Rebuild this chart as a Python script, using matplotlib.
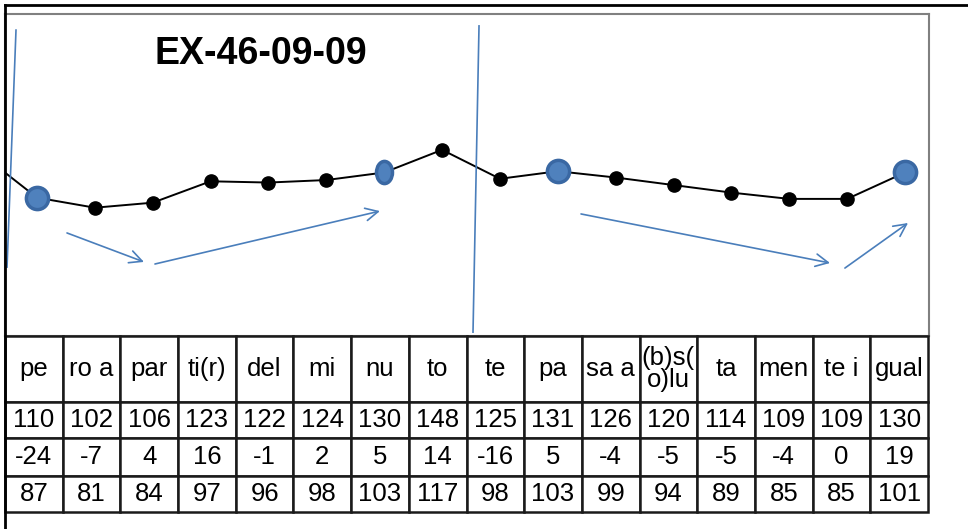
import matplotlib
matplotlib.use('Agg')
import matplotlib.pyplot as plt
from matplotlib.markers import MarkerStyle
from matplotlib.transforms import Affine2D
from matplotlib.lines import Line2D

plt.rcParams['font.family'] = ['Liberation Sans', 'DejaVu Sans']

# data
syllables = ['pe', 'ro a', 'par', 'ti(r)', 'del', 'mi', 'nu', 'to',
             'te', 'pa', 'sa a', '(b)s(\no)lu', 'ta', 'men', 'te i', 'gual']
hz = [110, 102, 106, 123, 122, 124, 130, 148, 125, 131, 126, 120, 114, 109, 109, 130]
diff = [-24, -7, 4, 16, -1, 2, 5, 14, -16, 5, -4, -5, -5, -4, 0, 19]
pct = [87, 81, 84, 97, 96, 98, 103, 117, 98, 103, 99, 94, 89, 85, 85, 101]
prev_hz = 146  # last point of the previous group, only the tail is visible
big = [0, 9, 15]  # stressed points drawn as large blue dots
narrow = [6]      # narrow blue dot

W, H = 968, 529
fig = plt.figure(figsize=(W / 100, H / 100), dpi=100)

# chart area
ax = fig.add_axes([5 / W, 1 - 336 / H, 924 / W, 322 / H])
xs = list(range(-1, len(hz)))
ax.plot(xs, [prev_hz] + hz, color='black', lw=1.4, zorder=2)
ax.plot(range(len(hz)), hz, 'o', color='black', ms=9.5, zorder=3)
for i in big:
    ax.plot(i, hz[i], 'o', ms=16, mfc='#4f81bd', mec='#3a68a3', mew=2.5, zorder=4)
for i in narrow:
    m = MarkerStyle('o', transform=Affine2D().scale(0.72, 1))
    ax.plot(i, hz[i], marker=m, ms=16, mfc='#4f81bd', mec='#3a68a3', mew=2.5,
            ls='none', zorder=4)
ax.set_xlim(-0.553, 15.414)
ax.set_ylim(0, 256)
ax.set_xticks([])
ax.set_yticks([])
for s in ax.spines.values():
    s.set_color('#808080')
    s.set_linewidth(1.5)

ax.text(0.2765, 0.876, 'EX-46-09-09', transform=ax.transAxes, ha='center', va='center',
        fontsize=27, fontweight='bold')

blue = '#4a7ebb'
ax.plot([0.0119, 0.0022], [0.950, 0.214], transform=ax.transAxes, color=blue, lw=1.2)
ax.plot([0.513, 0.5065], [0.963, 0.012], transform=ax.transAxes, color=blue, lw=1.2)
arrows = [((0.0671, 0.320), (0.1504, 0.230)),
          ((0.1623, 0.2236), (0.4058, 0.388)),
          ((0.6234, 0.379), (0.8929, 0.2267)),
          ((0.909, 0.211), (0.9773, 0.351))]
for a, b in arrows:
    ax.annotate('', xy=b, xytext=a, xycoords='axes fraction', textcoords='axes fraction',
                arrowprops=dict(arrowstyle='->,head_length=0.9,head_width=0.45',
                                color=blue, lw=1.2, shrinkA=0, shrinkB=0))

# table under the chart
tax = fig.add_axes([5 / W, 1 - 512 / H, 923 / W, 176 / H])
tax.axis('off')
cells = [syllables, [str(v) for v in hz], [str(v) for v in diff], [str(v) for v in pct]]
tbl = tax.table(cellText=cells, cellLoc='center', bbox=[0, 0, 1, 1])
tbl.auto_set_font_size(False)
row_h = [66, 36, 38, 36]
for (r, c), cell in tbl.get_celld().items():
    cell.set_height(row_h[r])
    cell.set_linewidth(1.8)
    cell.set_edgecolor('#1a1a1a')
    cell.PAD = 0.02
    t = cell.get_text()
    t.set_fontsize(18.5)
    t.set_linespacing(0.85)

# outer black frame lines
fig.add_artist(Line2D([5 / W, 1], [1 - 5 / H, 1 - 5 / H], color='black', lw=2))
fig.add_artist(Line2D([5 / W, 5 / W], [0, 1 - 5 / H], color='black', lw=2))

fig.savefig('out.png', dpi=100)
